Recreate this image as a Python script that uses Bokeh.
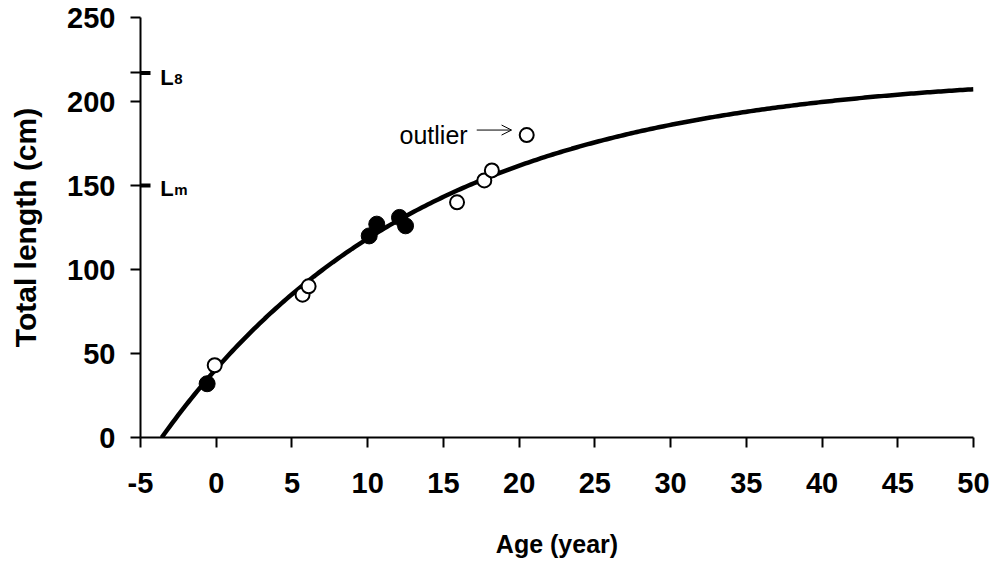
import numpy as np
from bokeh.plotting import figure
from bokeh.models import Range1d, FixedTicker, Label, Arrow, OpenHead
from bokeh.embed import file_html
from bokeh.resources import INLINE

# ---- data ----
filled_age = [-0.6, 10.1, 10.6, 12.1, 12.5]
filled_len = [32, 120, 127, 131, 126]
open_age = [-0.1, 5.7, 6.1, 15.9, 17.7, 18.2, 20.5]
open_len = [43, 85, 90, 140, 153, 159, 180]

# von Bertalanffy growth parameters
L_inf = 217.0
K = 0.058
t0 = -3.6
L_m = 150.0

x_ticks = [-5, 0, 5, 10, 15, 20, 25, 30, 35, 40, 45, 50]
y_ticks = [0, 50, 100, 150, 200, 250]

curve_age = np.linspace(t0, 50, 300)
curve_len = L_inf * (1 - np.exp(-K * (curve_age - t0)))

FONT = "Liberation Sans"

p = figure(width=998, height=580, output_backend="svg", toolbar_location=None,
           x_range=Range1d(-5, 50), y_range=Range1d(0, 250),
           min_border_left=140, min_border_right=25, min_border_top=17,
           min_border_bottom=143)
p.grid.visible = False
p.outline_line_color = None
p.background_fill_color = "white"
p.border_fill_color = "white"

p.line(curve_age, curve_len, line_color="black", line_width=4.5)
p.scatter(filled_age, filled_len, size=16, fill_color="black", line_color="black")
p.scatter(open_age, open_len, size=14, fill_color="white", line_color="black", line_width=2)

for ax in (p.xaxis[0], p.yaxis[0]):
    ax.axis_line_width = 2
    ax.major_tick_line_width = 2
    ax.major_tick_in = 0
    ax.major_tick_out = 10
    ax.minor_tick_line_color = None
    ax.major_label_text_font = FONT
    ax.major_label_text_font_style = "bold"
    ax.major_label_text_font_size = "29px"
    ax.major_label_text_color = "black"
    ax.axis_label_text_font = FONT
    ax.axis_label_text_font_style = "bold"
    ax.axis_label_text_color = "black"

p.xaxis.axis_label_text_font_size = "25px"
p.yaxis.axis_label_text_font_size = "30px"

p.xaxis.ticker = FixedTicker(ticks=x_ticks)
# the L-infinity mark gets an (unlabelled) outer tick as well
p.yaxis.ticker = FixedTicker(ticks=y_ticks + [L_inf])
p.yaxis.major_label_overrides = {L_inf: ""}
p.xaxis.major_label_overrides = {-5: "-5"}
p.xaxis.axis_label = "Age (year)"
p.yaxis.axis_label = "Total length (cm)"
p.xaxis.major_label_standoff = 25
p.yaxis.major_label_standoff = 15
p.xaxis.axis_label_standoff = 34
p.yaxis.axis_label_standoff = 22

# inner part of the L-infinity and L-maturity marks
xs = 10 / 15.145
p.segment(x0=[-5, -5], x1=[-5 + xs, -5 + xs], y0=[L_inf, L_m], y1=[L_inf, L_m],
          line_width=4, line_color="black")

def lab(x, y, text, size, **kw):
    p.add_layout(Label(x=x, y=y, text=text, text_font=FONT, text_font_style="bold",
                       text_font_size=size, text_color="black", text_baseline="alphabetic", **kw))

lab(-3.7, L_inf, "L", "22px", y_offset=-5)
lab(-3.7, L_inf, "8", "15px", x_offset=14, y_offset=-6)
lab(-3.7, L_m, "L", "22px", y_offset=-3)
lab(-3.7, L_m, "m", "15px", x_offset=14, y_offset=-4)

# outlier annotation
p.add_layout(Label(x=16.6, y=180.3, text="outlier", text_font=FONT, text_font_size="25px",
                   text_color="black", text_align="right", text_baseline="middle"))
p.add_layout(Arrow(x_start=17.2, y_start=183, x_end=19.5, y_end=183,
                   line_width=1, line_color="black",
                   end=OpenHead(size=10, line_width=1, line_color="black")))

open("out.html", "w").write(file_html(p, INLINE))
